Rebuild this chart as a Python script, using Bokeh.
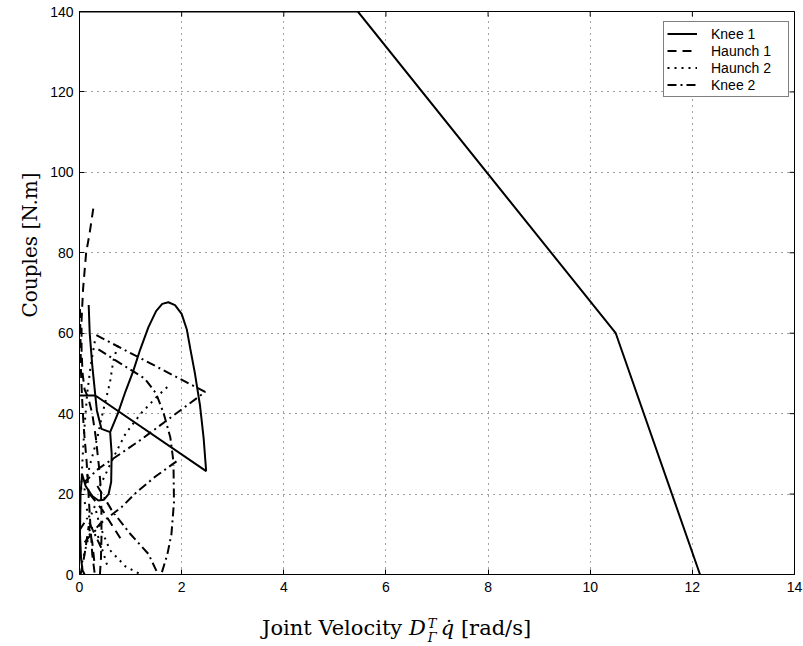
from bokeh.plotting import figure
from bokeh.models import Legend, LegendItem, FixedTicker, Range1d, Title, Div
from bokeh.layouts import column
from bokeh.embed import file_html
from bokeh.resources import INLINE

nan = float("nan")

x_ticks = [0, 2, 4, 6, 8, 10, 12, 14]
y_ticks = [0, 20, 40, 60, 80, 100, 120, 140]

series_names = ["Knee 1", "Haunch 1", "Haunch 2", "Knee 2"]

# Knee 1 (solid)
knee1_x = [0, 5.45, 10.5, 12.15, nan,
           0.18, 0.2, 0.25, 0.31, 0.34, 0.43, 0.6, 0.75, 0.9, 1.05, 1.19, 1.35, 1.5, 1.62, 1.74,
           1.87, 2.0, 2.1, 2.17, 2.26, 2.36, 2.43, 2.48, 0.31, 0.0, nan,
           0.6, 0.63, 0.62, 0.57, 0.48, 0.37, 0.25, 0.12, 0.05, 0.02, 0.01, 0.03, 0.06, 0.1]
knee1_y = [140, 140, 60, 0, nan,
           67, 60, 52, 44.5, 40.8, 36.2, 35.4, 40, 45.5, 50.5, 56, 61.5, 65.5, 67.3, 67.7,
           67, 64.8, 61, 56.1, 50, 42, 34, 25.7, 44.5, 44.5, nan,
           35.4, 30, 23, 20, 18.6, 18.4, 19.5, 22, 25, 20, 10, 4, 1, 0]

# Haunch 1 (dashed)
haunch1_x = [0.27, 0.2, 0.13, 0.07, 0.04, 0.04, 0.06, 0.1, 0.17, 0.25, 0.32, 0.38, 0.42, 0.43, 0.43, 0.42, 0.4, nan,
             0.01, 0.02, 0.03, 0.05, 0.08, 0.14, 0.2, 0.25, 0.3, nan,
             0.2, 0.45, 0.65, 0.8, nan,
             0.02, 0.1, 0.18, 0.25, 0.3]
haunch1_y = [91, 85, 80, 71, 63, 56, 50, 46, 44, 40, 34, 27, 21, 15, 9, 4, 0, nan,
             66, 58, 50, 44, 37, 28, 15, 5, 0, nan,
             20, 16, 12, 9, nan,
             0, 5, 12, 8, 2]

# Haunch 2 (dotted)
haunch2_x = [0.75, 0.66, 0.6, 0.56, 0.45, 0.35, 0.2, 0.08, nan,
             0.3, 0.22, 0.15, 0.1, 0.06, 0.03, nan,
             0.4, 0.7, 0.9, 1.2, 1.5, 1.75, nan,
             0.05, 0.15, 0.25, 0.35, 0.45, 0.55, nan,
             0.1, 0.2, 0.3, 0.4, 0.6, 0.9, 1.2]
haunch2_y = [57, 53, 48, 45.8, 40, 34, 27, 20, nan,
             58, 52, 45, 37, 29, 20, nan,
             22, 30, 35, 40, 44, 47, nan,
             3, 8, 12, 10, 6, 2, nan,
             18, 14, 17, 12, 6, 2, 0]

# Knee 2 (dash-dot)
knee2_x = [0.33, 2.46, 1.2, 0.37, 0.1, nan,
           0.37, 0.8, 1.28, 1.5, 1.65, 1.78, 1.84, 1.85, 1.8, 1.72, 1.6, nan,
           0.1, 0.4, 0.82, 1.12, 1.5, 1.93, nan,
           0.35, 0.63, 1.0, 1.35, 1.54, nan,
           0.0, 0.15, 0.3, 0.45]
knee2_y = [59.5, 45.4, 33.5, 26.3, 23, nan,
           56, 52.5, 48.7, 45, 40, 34, 28, 18, 10, 5, 0, nan,
           8, 12.6, 16.7, 20.5, 24.5, 28.4, nan,
           22, 16, 10, 5.1, 0, nan,
           11, 14, 10, 6]

series_x = [knee1_x, haunch1_x, haunch2_x, knee2_x]
series_y = [knee1_y, haunch1_y, haunch2_y, knee2_y]
series_dash = ["solid", "9 6", "2 5", "9 4 2 4"]

p = figure(width=803, height=610, output_backend="svg", toolbar_location=None,
           x_range=Range1d(0, 14), y_range=Range1d(0, 140),
           min_border_left=79, min_border_right=9, min_border_top=11, min_border_bottom=36)
p.background_fill_color = "white"
p.border_fill_color = "white"
p.outline_line_color = "black"
p.outline_line_width = 1

for ax in (p.xaxis[0], p.yaxis[0]):
    ax.major_label_text_font = "Liberation Sans"
    ax.major_label_text_font_size = "14px"
    ax.major_label_text_color = "black"
    ax.major_tick_in = 5
    ax.major_tick_out = 0
    ax.minor_tick_line_color = None
    ax.axis_line_color = "black"
    ax.major_tick_line_color = "black"
p.xaxis.ticker = FixedTicker(ticks=x_ticks)
p.yaxis.ticker = FixedTicker(ticks=y_ticks)
p.xaxis.major_label_standoff = 7
p.yaxis.major_label_standoff = 6

p.xgrid.ticker = FixedTicker(ticks=x_ticks)
p.ygrid.ticker = FixedTicker(ticks=y_ticks)
for g in (p.xgrid[0], p.ygrid[0]):
    g.grid_line_color = "#444444"
    g.grid_line_dash = "1 5"
    g.grid_line_width = 1

# inward tick marks on the top and right edges of the box (half of each dash is clipped)
p.scatter(x_ticks, [y_ticks[-1]] * len(x_ticks), marker="dash", angle=1.5708, size=10,
          line_color="black", line_width=1)
p.scatter([x_ticks[-1]] * len(y_ticks), y_ticks, marker="dash", size=10,
          line_color="black", line_width=1)

renderers = []
for xs, ys, dash in zip(series_x, series_y, series_dash):
    r = p.line(xs, ys, line_color="black", line_width=2, line_dash=dash)
    renderers.append(r)

legend = Legend(items=[LegendItem(label=n, renderers=[r]) for n, r in zip(series_names, renderers)],
                location=(584, 477), padding=3, spacing=0, margin=0,
                glyph_width=30, glyph_height=17, label_height=17, label_width=74,
                label_standoff=14,
                label_text_font="Liberation Sans", label_text_font_size="14px",
                label_text_color="black",
                border_line_color="black", border_line_width=1,
                background_fill_color="white", background_fill_alpha=1)
p.add_layout(legend)

ylabel = Title(text="Couples [N.m]", align="left", offset=257, standoff=12,
               text_font="DejaVu Serif", text_font_size="20px", text_font_style="normal",
               text_color="black")
p.add_layout(ylabel, "left")

xlabel_html = (
    '<div style="font-family:\'DejaVu Serif\';font-size:21px;white-space:nowrap;'
    'padding-left:262px;line-height:36px;color:black;">'
    'Joint Velocity <i>D</i><span style="display:inline-block;vertical-align:-7px;'
    'font-size:13px;line-height:14px;font-style:italic;margin-left:2px;margin-right:4px;">T<br>&Gamma;</span>'
    '<i>q&#775;</i> [rad/s]</div>'
)
xlabel = Div(text=xlabel_html, width=803, height=36, margin=0)

layout = column(p, xlabel, spacing=0)

open("out.html", "w").write(file_html(layout, INLINE))
